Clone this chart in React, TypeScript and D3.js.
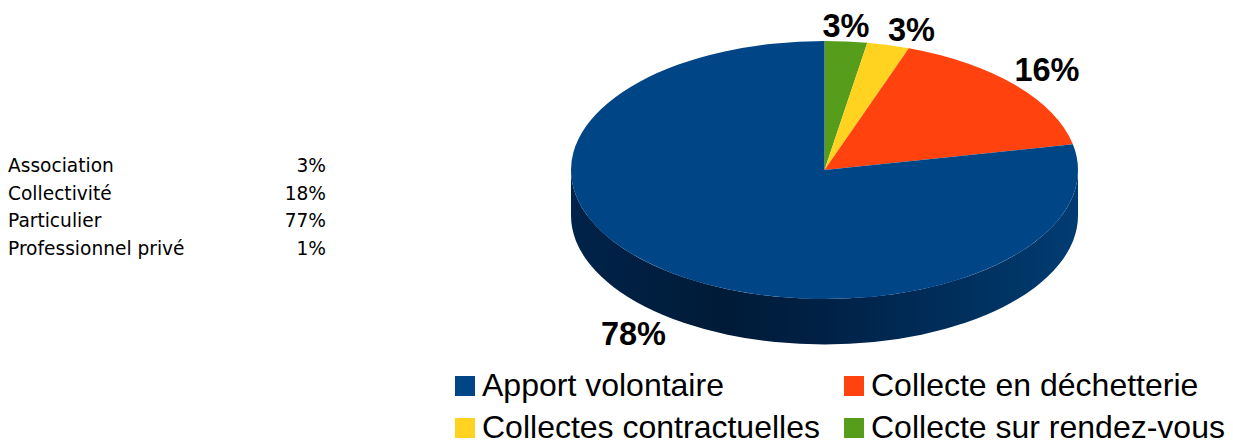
import React from 'react';
import * as d3 from 'd3';

// left hand table
const tableNames = ['Association', 'Collectivité', 'Particulier', 'Professionnel privé'];
const tableValues = ['3%', '18%', '77%', '1%'];

// pie, in drawing order clockwise from 12 o'clock
const sliceNames = ['Collecte sur rendez-vous', 'Collectes contractuelles', 'Collecte en déchetterie', 'Apport volontaire'];
const sliceValues = [2.7, 2.7, 16.4, 78.2];
const sliceLabels = ['3%', '3%', '16%', '78%'];
const sliceColors = ['#579d1c', '#ffd320', '#ff420e', '#004586'];

const legendOrder = [3, 2, 1, 0];

const width = 1233;
const height = 441;

// Pie geometry
const cx = 824.5;
const cy = 170;
const rx = 253.5;
const ry = 129;
const depth = 45.5;

const labelPos = [
  [846, 37],
  [911.5, 41],
  [1047, 81],
  [633.5, 345],
];

const App = () => {
  const pie = d3.pie<number>().sort(null).value(d => d);
  const arc = d3.arc<d3.PieArcDatum<number>>().innerRadius(0).outerRadius(rx);
  const slices = pie(sliceValues);

  const tableY = d3.scalePoint<number>().domain(d3.range(tableNames.length)).range([172, 254.5]);

  const wall = `M${cx - rx},${cy} A${rx},${ry} 0 0 0 ${cx + rx},${cy} L${cx + rx},${cy + depth} A${rx},${ry} 0 0 1 ${cx - rx},${cy + depth} Z`;

  return (
    <svg width={width} height={height} viewBox={`0 0 ${width} ${height}`} style={{ position: 'absolute', left: 0, top: 0 }}>
      <defs>
        <linearGradient id="wall" gradientUnits="userSpaceOnUse" x1={cx - rx} x2={cx + rx} y1={0} y2={0}>
          <stop offset="0" stopColor="#00234a" />
          <stop offset="0.3" stopColor="#001b37" />
          <stop offset="0.5" stopColor="#002146" />
          <stop offset="0.8" stopColor="#00315f" />
          <stop offset="1" stopColor="#003c73" />
        </linearGradient>
      </defs>

      <g fontFamily="'DejaVu Sans'" fontSize={18.6} fill="#000">
        {tableNames.map((name, i) => (
          <g key={name}>
            <text x={8} y={tableY(i)}>{name}</text>
            <text x={326} y={tableY(i)} textAnchor="end">{tableValues[i]}</text>
          </g>
        ))}
      </g>

      <path d={wall} fill="url(#wall)" />
      <g transform={`translate(${cx},${cy}) scale(1,${ry / rx})`}>
        {slices.map((s, i) => (
          <path key={sliceNames[i]} d={arc(s) ?? ''} fill={sliceColors[i]} />
        ))}
      </g>

      <g fontFamily="'Liberation Sans'" fontWeight="bold" fontSize={32.5} textAnchor="middle" fill="#000">
        {sliceLabels.map((label, i) => (
          <text key={i} x={labelPos[i][0]} y={labelPos[i][1]}>{label}</text>
        ))}
      </g>

      <g fontFamily="'Liberation Sans'" fontSize={32} fill="#000">
        {legendOrder.map((idx, i) => {
          const x = i % 2 === 0 ? 455 : 844;
          const y = i < 2 ? 376 : 418;
          return (
            <g key={idx}>
              <rect x={x} y={y} width={20} height={20} fill={sliceColors[idx]} />
              <text x={x + 27} y={y + 20}>{sliceNames[idx]}</text>
            </g>
          );
        })}
      </g>
    </svg>
  );
};

export default App;
